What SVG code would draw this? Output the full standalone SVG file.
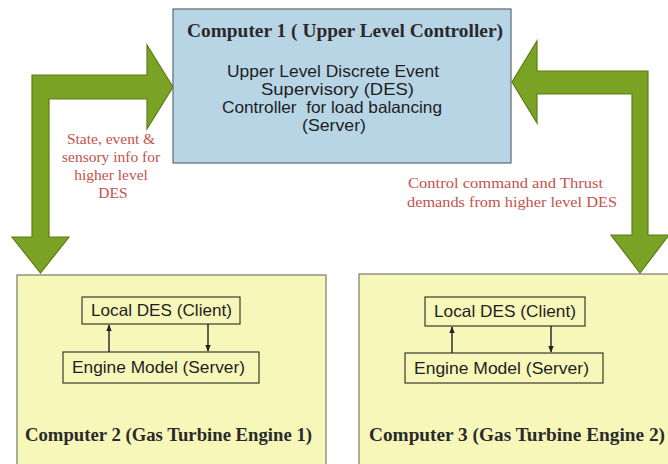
<svg xmlns="http://www.w3.org/2000/svg" width="668" height="464" viewBox="0 0 668 464">
  <style>
    .bg { fill: #ffffff; }
    .upper { fill: #b8d5e6; stroke: #5c6a70; stroke-width: 1.2; }
    .engine { fill: #f7f7ba; stroke: #7a7a64; stroke-width: 1.2; }
    .inner { fill: #f7f7ba; stroke: #3a3a30; stroke-width: 1.2; }
    .flow { fill: #7aa326; stroke: #5b7d14; stroke-width: 1.2; stroke-linejoin: miter; }
    .link { stroke: #222222; stroke-width: 1.4; fill: none; }
    .title { font-family: "Liberation Serif", "Times New Roman", serif; font-weight: bold; font-size: 18px; fill: #2a2a2a; }
    .body { font-family: "Liberation Sans", Arial, sans-serif; font-size: 16.5px; fill: #1e1e1e; }
    .note { font-family: "Liberation Serif", "Times New Roman", serif; font-size: 15.5px; fill: #c4524a; }
  </style>
  <defs>
    <marker id="tip" viewBox="0 0 10 10" refX="9" refY="5" markerWidth="5" markerHeight="5" orient="auto">
      <path d="M0,1 L10,5 L0,9 Z" fill="#222222"/>
    </marker>
  </defs>

  <rect class="bg" x="0" y="0" width="668" height="464"/>

  <!-- wide block arrows between the computers -->
  <g id="connectors">
    <path class="flow" d="M32,237 L32,75 L147,75 L147,45 L173,87 L147,129 L147,99 L49,99 L49,237 L69,237 L40.5,273 L12,237 Z"/>
    <path class="flow" d="M648,235 L648,71 L537,71 L537,41 L512,82 L537,123 L537,94 L632,94 L632,235 L611,235 L640,273 L669,235 Z"/>
    <text class="note" text-anchor="middle">
      <tspan x="113" y="144">State, event &amp;</tspan>
      <tspan x="113" y="162">sensory info for</tspan>
      <tspan x="113" y="180">higher level</tspan>
      <tspan x="113" y="198">DES</tspan>
    </text>
    <text class="note" x="408" y="188" textLength="195" lengthAdjust="spacingAndGlyphs">Control command and Thrust</text>
    <text class="note" x="407" y="207" textLength="210" lengthAdjust="spacingAndGlyphs">demands from higher level DES</text>
  </g>

  <!-- upper level controller -->
  <g id="computer1">
    <rect class="upper" x="173" y="9" width="338" height="154"/>
    <text class="title" x="187" y="37" textLength="316" lengthAdjust="spacingAndGlyphs">Computer 1 ( Upper Level Controller)</text>
    <text class="body" x="227" y="77" textLength="212" lengthAdjust="spacingAndGlyphs">Upper Level Discrete Event</text>
    <text class="body" x="261" y="95" textLength="153" lengthAdjust="spacingAndGlyphs">Supervisory (DES)</text>
    <text class="body" x="222" y="113" textLength="220" lengthAdjust="spacingAndGlyphs" xml:space="preserve">Controller  for load balancing</text>
    <text class="body" x="302" y="131" textLength="64" lengthAdjust="spacingAndGlyphs">(Server)</text>
  </g>

  <!-- gas turbine engine 1 -->
  <g id="computer2">
    <rect class="engine" x="17" y="275" width="309" height="200"/>
    <g id="local-des-1">
      <rect class="inner" x="82" y="297" width="158" height="27"/>
      <text class="body" x="91" y="316" textLength="141" lengthAdjust="spacingAndGlyphs">Local DES (Client)</text>
    </g>
    <g id="engine-model-1">
      <rect class="inner" x="63" y="352" width="196" height="31"/>
      <text class="body" x="72" y="373" textLength="173" lengthAdjust="spacingAndGlyphs">Engine Model (Server)</text>
    </g>
    <line class="link" x1="109" y1="352" x2="109" y2="325" marker-end="url(#tip)"/>
    <line class="link" x1="208" y1="324" x2="208" y2="351" marker-end="url(#tip)"/>
    <text class="title" x="25" y="441" textLength="287" lengthAdjust="spacingAndGlyphs">Computer 2 (Gas Turbine Engine 1)</text>
  </g>

  <!-- gas turbine engine 2 -->
  <g id="computer3">
    <rect class="engine" x="359" y="274" width="320" height="200"/>
    <g id="local-des-2">
      <rect class="inner" x="425" y="297" width="160" height="29"/>
      <text class="body" x="434" y="317" textLength="142" lengthAdjust="spacingAndGlyphs">Local DES (Client)</text>
    </g>
    <g id="engine-model-2">
      <rect class="inner" x="405" y="353" width="198" height="30"/>
      <text class="body" x="414" y="374" textLength="175" lengthAdjust="spacingAndGlyphs">Engine Model (Server)</text>
    </g>
    <line class="link" x1="452" y1="353" x2="452" y2="327" marker-end="url(#tip)"/>
    <line class="link" x1="551" y1="326" x2="551" y2="352" marker-end="url(#tip)"/>
    <text class="title" x="369" y="441" textLength="296" lengthAdjust="spacingAndGlyphs">Computer 3 (Gas Turbine Engine 2)</text>
  </g>
</svg>
